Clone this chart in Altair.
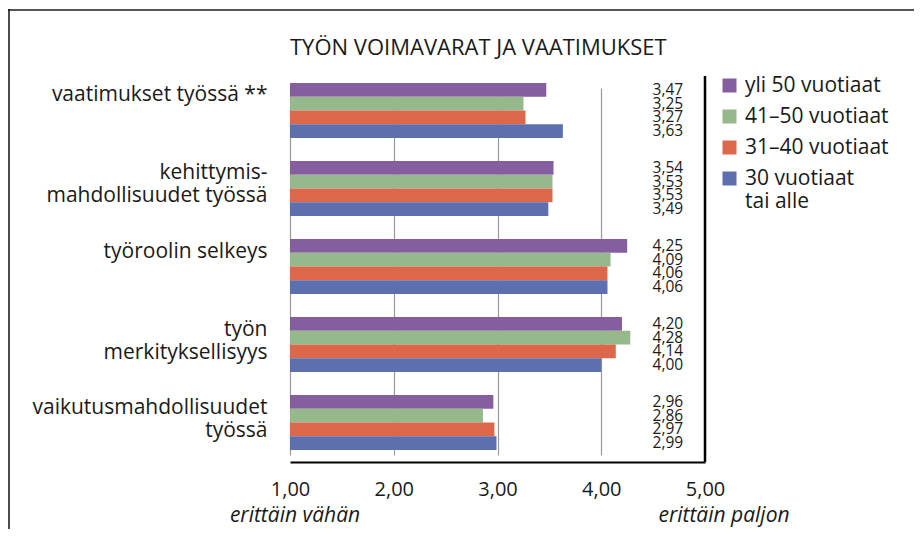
import altair as alt
import pandas as pd

categories = [
    "vaatimukset työssä **",
    "kehittymis-\nmahdollisuudet työssä",
    "työroolin selkeys",
    "työn\nmerkityksellisyys",
    "vaikutusmahdollisuudet\ntyössä",
]
groups = ["yli 50 vuotiaat", "41–50 vuotiaat", "31–40 vuotiaat", "30 vuotiaat tai alle"]
colors = ["#855EA0", "#96B98C", "#DD674A", "#5E6FB0"]

yli50 = [3.47, 3.54, 4.25, 4.20, 2.96]
v41_50 = [3.25, 3.53, 4.09, 4.28, 2.86]
v31_40 = [3.27, 3.53, 4.06, 4.14, 2.97]
alle30 = [3.63, 3.49, 4.06, 4.00, 2.99]
series = [yli50, v41_50, v31_40, alle30]

ticks = [1, 2, 3, 4, 5]
end_labels = ["erittäin vähän", "erittäin paljon"]
end_values = [1, 5]
title_text = "TYÖN VOIMAVARAT JA VAATIMUKSET"

rows = []
for g, vals in zip(groups, series):
    for c, v in zip(categories, vals):
        rows.append({"category": c, "group": g, "value": v,
                     "label": f"{v:.2f}".replace(".", ",")})
df = pd.DataFrame(rows)

FONT = "Open Sans"
TXT = "#1a1a1a"

xscale = alt.Scale(domain=[1, 5], zero=False, nice=False)
yenc = alt.Y("category:N", sort=categories,
             scale=alt.Scale(range=[7, 374], paddingInner=0.295, paddingOuter=0),
             axis=alt.Axis(title=None, ticks=False, domain=False, labelFontSize=21,
                           labelFont=FONT, labelColor=TXT, labelPadding=23,
                           labelLineHeight=23, labelOffset=-15, labelLimit=400,
                           labelExpr="split(datum.label, '\\n')"))
yoff = alt.YOffset("group:N", sort=groups, scale=alt.Scale(paddingInner=0, paddingOuter=0))

base = alt.Chart(df)

bars = base.mark_bar().encode(
    x=alt.X("value:Q", scale=xscale,
            axis=alt.Axis(title=None, values=ticks, ticks=False, domainColor="black",
                          domainWidth=2, grid=True, gridColor="#999", gridWidth=1.2,
                          labelFontSize=20, labelFont=FONT, labelColor=TXT, labelPadding=17,
                          labelFlush=False,
                          labelExpr="replace(format(datum.value, '.2f'), '.', ',')")),
    x2=alt.datum(1),
    y=yenc,
    yOffset=yoff,
    color=alt.Color("group:N", sort=groups,
                    scale=alt.Scale(domain=groups, range=colors),
                    legend=alt.Legend(title=None, orient="none", legendX=429, legendY=-1,
                                      symbolType="square", symbolSize=196, symbolStrokeWidth=0,
                                      labelFontSize=21, labelFont=FONT, labelColor=TXT,
                                      labelOffset=5, rowPadding=9, padding=0,
                                      labelExpr="datum.label == '30 vuotiaat tai alle' ? ['30 vuotiaat', 'tai alle'] : datum.label")),
)

labels = base.mark_text(align="right", baseline="middle", fontSize=15.5, font=FONT, color=TXT).encode(
    x=alt.datum(4.79),
    y=alt.Y("category:N", sort=categories),
    yOffset=alt.YOffset("group:N", sort=groups),
    text="label:N",
)

border = alt.Chart(pd.DataFrame({"v": [5]})).mark_rule(color="black", strokeWidth=2.5).encode(
    x=alt.X("v:Q", scale=xscale)
)

ends_df = pd.DataFrame({"t": end_labels, "v": end_values})
end_left = alt.Chart(ends_df).transform_filter("datum.v == 1").mark_text(
    fontStyle="italic", fontSize=21, font=FONT, color=TXT, baseline="middle", dx=5
).encode(x=alt.X("v:Q", scale=xscale), y=alt.value(440), text="t:N")
end_right = alt.Chart(ends_df).transform_filter("datum.v == 5").mark_text(
    fontStyle="italic", fontSize=21, font=FONT, color=TXT, baseline="middle", dx=19
).encode(x=alt.X("v:Q", scale=xscale), y=alt.value(440), text="t:N")

title = alt.Chart(pd.DataFrame({"t": [title_text]})).mark_text(
    fontSize=22, font=FONT, color=TXT, align="left", baseline="middle"
).encode(x=alt.value(0), y=alt.value(-28), text="t:N")

frame_top = alt.Chart(pd.DataFrame({"k": [0]})).mark_rule(color="#555", strokeWidth=2).encode(
    x=alt.value(-282), x2=alt.value(624), y=alt.value(-66)
)
frame_left = alt.Chart(pd.DataFrame({"k": [0]})).mark_rule(color="#111", strokeWidth=1.5).encode(
    x=alt.value(-281), y=alt.value(-67), y2=alt.value(453)
)

chart = alt.layer(bars, labels, border, end_left, end_right, title, frame_top, frame_left).properties(
    width=415, height=386,
    autosize=alt.AutoSizeParams(type="none"),
    padding={"left": 282, "top": 68, "right": 209, "bottom": 67},
).configure_view(stroke=None)

chart.save("out.html", embed_options={"renderer": "svg", "actions": False})
